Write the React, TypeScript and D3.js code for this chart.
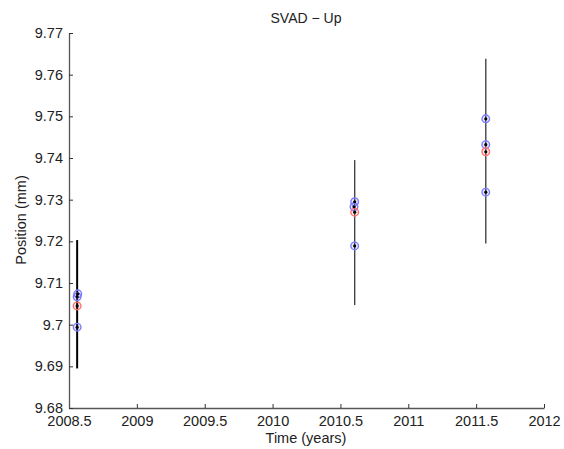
import React, { useEffect, useRef } from 'react';
import * as d3 from 'd3';

// epochs (decimal years) and error bar extents
const epochs = [2008.56, 2010.605, 2011.571];
const barLow = [9.6895, 9.7047, 9.7195];
const barHigh = [9.7203, 9.7395, 9.7638];

// individual solutions (blue rings)
const blueTime = [2008.565, 2008.56, 2008.56, 2010.605, 2010.6, 2010.605, 2011.571, 2011.571, 2011.571];
const blueValue = [9.7074, 9.7067, 9.6994, 9.7295, 9.7283, 9.7189, 9.7494, 9.7432, 9.7318];

// mean per epoch (red rings)
const redValue = [9.7045, 9.7270, 9.7415];

const xTicks = [2008.5, 2009, 2009.5, 2010, 2010.5, 2011, 2011.5, 2012];
const yTicks = [9.68, 9.69, 9.7, 9.71, 9.72, 9.73, 9.74, 9.75, 9.76, 9.77];

const App = () => {
  const ref = useRef(null);

  useEffect(() => {
    if (!ref.current) return;
    d3.select(ref.current).selectAll('*').remove();
    const svg = d3.select(ref.current)
      .append('svg')
      .attr('width', 564)
      .attr('height', 449)
      .style('display', 'block')
      .style('font-family', 'Liberation Sans, Arial, sans-serif');

    const x = d3.scaleLinear().domain([2008.5, 2012]).range([69, 544]);
    const y = d3.scaleLinear().domain([9.68, 9.77]).range([408, 33]);
    const fmt = d3.format('~g');

    const xAxis = d3.axisBottom(x).tickValues(xTicks).tickFormat(d => fmt(d)).tickSizeInner(-4).tickSizeOuter(0).tickPadding(8);
    const yAxis = d3.axisLeft(y).tickValues(yTicks).tickFormat(d => fmt(d)).tickSizeInner(-4).tickSizeOuter(0).tickPadding(6);

    const gx = svg.append('g').attr('transform', 'translate(0,408)').call(xAxis);
    const gy = svg.append('g').attr('transform', 'translate(69,0)').call(yAxis);
    [gx, gy].forEach(g => {
      g.select('.domain').attr('stroke', '#555').attr('stroke-width', 1.3);
      g.selectAll('.tick line').attr('stroke', '#333');
      g.selectAll('.tick text').attr('fill', '#222').style('font-size', '14.5px').style('font-family', 'Liberation Sans, Arial, sans-serif');
    });

    // error bars
    svg.selectAll('.bar')
      .data(epochs)
      .join('line')
      .attr('x1', d => x(d))
      .attr('x2', d => x(d))
      .attr('y1', (d, i) => y(barLow[i]))
      .attr('y2', (d, i) => y(barHigh[i]))
      .attr('stroke', (d, i) => (i === 0 ? '#000' : '#444'))
      .attr('stroke-width', (d, i) => (i === 0 ? 2 : 1.4));

    // blue rings
    svg.selectAll('.blue')
      .data(blueValue)
      .join('circle')
      .attr('cx', (d, i) => x(blueTime[i]))
      .attr('cy', d => y(d))
      .attr('r', 3.8)
      .attr('fill', 'rgba(120,120,255,0.15)')
      .attr('stroke', '#7c7cff')
      .attr('stroke-width', 1.4);

    // red rings
    svg.selectAll('.red')
      .data(redValue)
      .join('circle')
      .attr('cx', (d, i) => x(epochs[i]))
      .attr('cy', d => y(d))
      .attr('r', 3.8)
      .attr('fill', 'rgba(255,120,120,0.15)')
      .attr('stroke', '#ff7070')
      .attr('stroke-width', 1.4);

    // black centre dots
    const allT = blueTime.concat(epochs);
    svg.selectAll('.dot')
      .data(blueValue.concat(redValue))
      .join('circle')
      .attr('cx', (d, i) => x(allT[i]))
      .attr('cy', d => y(d))
      .attr('r', 1.6)
      .attr('fill', '#000');

    svg.append('text')
      .attr('x', 306)
      .attr('y', 23)
      .attr('text-anchor', 'middle')
      .attr('fill', '#222')
      .style('font-size', '14px')
      .text('SVAD \u2212 Up');

    svg.append('text')
      .attr('x', 306)
      .attr('y', 443)
      .attr('text-anchor', 'middle')
      .attr('fill', '#222')
      .style('font-size', '14.5px')
      .text('Time (years)');

    svg.append('text')
      .attr('transform', 'translate(26,220) rotate(-90)')
      .attr('text-anchor', 'middle')
      .attr('fill', '#222')
      .style('font-size', '14.5px')
      .text('Position (mm)');
  }, []);

  return <div ref={ref} style={{ position: 'absolute', left: 0, top: 0 }}></div>;
};

export default App;
